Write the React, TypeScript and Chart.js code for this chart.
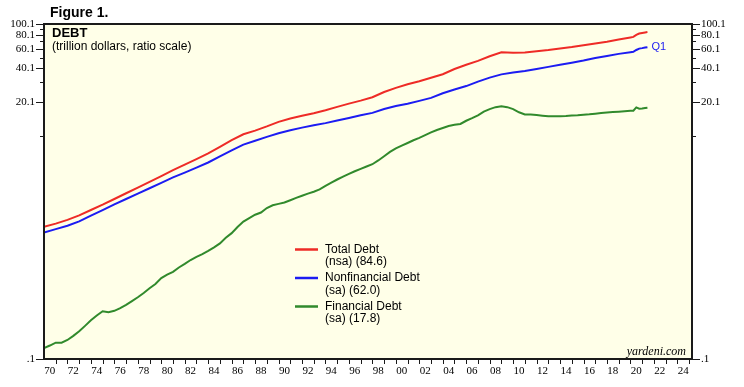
import React, { useEffect, useRef } from 'react';
import { Chart, registerables } from 'chart.js';

Chart.register(...registerables);

// ---------- data (trillion dollars) ----------
const annualYears = [
  1970, 1971, 1972, 1973, 1974, 1975, 1976, 1977, 1978, 1979,
  1980, 1981, 1982, 1983, 1984, 1985, 1986, 1987, 1988, 1989,
  1990, 1991, 1992, 1993, 1994, 1995, 1996, 1997, 1998, 1999,
  2000, 2001, 2002, 2003, 2004, 2005, 2006, 2007, 2008, 2009,
  2010, 2011, 2012, 2013, 2014, 2015, 2016, 2017, 2018, 2019,
  2020, 2020.25, 2020.5, 2020.75, 2021, 2021.25, 2021.45,
];

const totalDebt = [
  1.53, 1.63, 1.76, 1.93, 2.16, 2.41, 2.71, 3.05, 3.42, 3.85,
  4.35, 4.92, 5.51, 6.17, 6.93, 7.95, 9.13, 10.3, 11.1, 12.1,
  13.3, 14.25, 15.05, 15.9, 16.9, 18.1, 19.35, 20.6, 22.1, 24.6,
  26.8, 28.9, 30.7, 33.0, 35.5, 39.5, 43.1, 46.7, 51.4, 55.8,
  55.3, 55.5, 56.9, 58.4, 60.3, 62.2, 64.6, 67.0, 69.5, 72.5,
  75.7, 76.6, 80.0, 82.2, 83.2, 84.0, 84.6,
];

const nonfinancialDebt = [
  1.36, 1.455, 1.56, 1.71, 1.92, 2.15, 2.42, 2.71, 3.03, 3.38,
  3.78, 4.23, 4.67, 5.17, 5.75, 6.52, 7.4, 8.32, 9.0, 9.75,
  10.5, 11.2, 11.8, 12.4, 12.95, 13.65, 14.4, 15.25, 16.0, 17.3,
  18.4, 19.3, 20.5, 21.8, 24.0, 25.9, 27.8, 30.5, 33.1, 35.4,
  36.7, 37.9, 39.5, 41.3, 43.1, 45.0, 47.1, 49.6, 51.8, 54.0,
  55.8, 56.3, 58.5, 60.2, 60.8, 61.5, 62.0,
];

const halfYears = [
  1970, 1970.5, 1971, 1971.5, 1972, 1972.5, 1973, 1973.5, 1974, 1974.5,
  1975, 1975.5, 1976, 1976.5, 1977, 1977.5, 1978, 1978.5, 1979, 1979.5,
  1980, 1980.5, 1981, 1981.5, 1982, 1982.5, 1983, 1983.5, 1984, 1984.5,
  1985, 1985.5, 1986, 1986.5, 1987, 1987.5, 1988, 1988.5, 1989, 1989.5,
  1990, 1990.5, 1991, 1991.5, 1992, 1992.5, 1993, 1993.5, 1994, 1994.5,
  1995, 1995.5, 1996, 1996.5, 1997, 1997.5, 1998, 1998.5, 1999, 1999.5,
  2000, 2000.5, 2001, 2001.5, 2002, 2002.5, 2003, 2003.5, 2004, 2004.5,
  2005, 2005.5, 2006, 2006.5, 2007, 2007.5, 2008, 2008.5, 2009, 2009.5,
  2010, 2010.5, 2011, 2011.5, 2012, 2012.5, 2013, 2013.5, 2014, 2014.5,
  2015, 2015.5, 2016, 2016.5, 2017, 2017.5, 2018, 2018.5, 2019, 2019.5,
  2020, 2020.25, 2020.5, 2020.75, 2021, 2021.25, 2021.45,
];

const financialDebt = [
  0.125, 0.132, 0.14, 0.14, 0.148, 0.161, 0.177, 0.198, 0.222, 0.245,
  0.268, 0.262, 0.27, 0.285, 0.305, 0.33, 0.357, 0.39, 0.43, 0.47,
  0.53, 0.57, 0.603, 0.66, 0.71, 0.77, 0.822, 0.87, 0.93, 1.0,
  1.085, 1.22, 1.34, 1.52, 1.7, 1.83, 1.96, 2.05, 2.25, 2.38,
  2.45, 2.52, 2.64, 2.77, 2.9, 3.03, 3.15, 3.3, 3.55, 3.8,
  4.05, 4.3, 4.55, 4.8, 5.05, 5.3, 5.55, 6.0, 6.55, 7.15,
  7.7, 8.15, 8.6, 9.1, 9.55, 10.1, 10.7, 11.24, 11.7, 12.2,
  12.5, 12.72, 13.6, 14.35, 15.2, 16.4, 17.3, 18.0, 18.3, 18.0,
  17.3, 16.2, 15.5, 15.45, 15.3, 15.1, 14.9, 14.9, 14.9, 15.0,
  15.15, 15.25, 15.4, 15.55, 15.75, 15.95, 16.1, 16.25, 16.4, 16.55,
  16.7, 16.75, 17.9, 17.45, 17.5, 17.7, 17.8,
];

const xLabelYears = [
  1970, 1972, 1974, 1976, 1978, 1980, 1982, 1984, 1986, 1988,
  1990, 1992, 1994, 1996, 1998, 2000, 2002, 2004, 2006, 2008,
  2010, 2012, 2014, 2016, 2018, 2020, 2022, 2024,
];
const xTickLabels = [
  '70', '72', '74', '76', '78', '80', '82', '84', '86', '88',
  '90', '92', '94', '96', '98', '00', '02', '04', '06', '08',
  '10', '12', '14', '16', '18', '20', '22', '24',
];
const yTickValues = [0.1, 10, 20, 30, 40, 50, 60, 70, 80, 90, 100];
const yTickLabels = ['.1', '', '20.1', '', '40.1', '', '60.1', '', '80.1', '', '100.1'];

const seriesNames = ['Total Debt', 'Nonfinancial Debt', 'Financial Debt'];
const seriesNotes = ['(nsa) (84.6)', '(sa) (62.0)', '(sa) (17.8)'];
const seriesColors = ['#ee2b26', '#1c1cf2', '#318a2c'];

const X_MIN = 1970;
const X_MAX = 2025.25;
const BG = '#ffffe8';
const SANS = '"Liberation Sans", Arial, Helvetica, sans-serif';
const SERIF = '"Liberation Serif", "Times New Roman", serif';

const decorPlugin = {
  id: 'decor',
  beforeDraw(chart: any) {
    const { ctx, chartArea: a } = chart;
    ctx.save();
    ctx.fillStyle = '#ffffff';
    ctx.fillRect(0, 0, chart.width, chart.height);
    ctx.fillStyle = BG;
    ctx.fillRect(a.left, a.top, a.right - a.left, a.bottom - a.top);
    ctx.restore();
  },
  afterDatasetsDraw(chart: any) {
    const { ctx, chartArea: a, scales } = chart;
    const ys = scales.y;
    const xs = scales.x;
    ctx.save();
    // frame
    ctx.strokeStyle = '#1a1a1a';
    ctx.lineWidth = 2;
    ctx.strokeRect(a.left, a.top, a.right - a.left, a.bottom - a.top);

    // y tick marks on both sides
    ctx.lineWidth = 1;
    ctx.strokeStyle = '#1a1a1a';
    yTickValues.forEach((v, i) => {
      const py = Math.round(ys.getPixelForValue(v)) + 0.5;
      const len = yTickLabels[i] ? 8 : 4;
      ctx.beginPath();
      ctx.moveTo(a.left - len, py);
      ctx.lineTo(a.left, py);
      ctx.moveTo(a.right, py);
      ctx.lineTo(a.right + len, py);
      ctx.stroke();
    });
    // x tick marks (every year)
    for (let yr = Math.ceil(X_MIN) + 1; yr <= Math.floor(X_MAX); yr++) {
      const px = Math.round(xs.getPixelForValue(yr)) + 0.5;
      ctx.beginPath();
      ctx.moveTo(px, a.bottom);
      ctx.lineTo(px, a.bottom + 5);
      ctx.stroke();
    }

    // titles
    ctx.fillStyle = '#000';
    ctx.textBaseline = 'middle';
    ctx.textAlign = 'left';
    ctx.font = `bold 14px ${SANS}`;
    ctx.fillText('Figure 1.', 50, 13);
    ctx.font = `bold 13px ${SANS}`;
    ctx.fillText('DEBT', 52, 33.5);
    ctx.font = `12px ${SANS}`;
    ctx.fillText('(trillion dollars, ratio scale)', 52, 47);

    // legend
    const legendTop = [249.5, 278, 306.5];
    chart.data.datasets.forEach((ds: any, i: number) => {
      const y0 = legendTop[i];
      ctx.strokeStyle = ds.borderColor;
      ctx.lineWidth = 2.5;
      ctx.beginPath();
      ctx.moveTo(295, y0);
      ctx.lineTo(318, y0);
      ctx.stroke();
      ctx.fillStyle = '#000';
      ctx.font = `12px ${SANS}`;
      ctx.fillText(seriesNames[i], 325, y0);
      ctx.fillText(seriesNotes[i], 325, y0 + 12.5);
    });

    // Q1 marker next to end of blue line
    const last = annualYears.length - 1;
    ctx.fillStyle = seriesColors[1];
    ctx.font = `11px ${SANS}`;
    ctx.fillText('Q1', xs.getPixelForValue(annualYears[last]) + 4, ys.getPixelForValue(nonfinancialDebt[last]));

    // source
    ctx.fillStyle = '#000';
    ctx.textAlign = 'right';
    ctx.font = `italic 12px ${SERIF}`;
    ctx.fillText('yardeni.com', a.right - 6, a.bottom - 7.5);
    ctx.restore();
  },
};

const yAxis = (position: 'left' | 'right', width: number) => ({
  type: 'logarithmic' as const,
  position,
  min: 0.1,
  max: 100,
  grid: { display: false, drawTicks: false },
  border: { display: false },
  afterBuildTicks: (s: any) => {
    s.ticks = yTickValues.map((v) => ({ value: v }));
  },
  afterFit: (s: any) => {
    s.width = width;
  },
  ticks: {
    autoSkip: false,
    padding: 9,
    color: '#000',
    font: { family: SERIF, size: 11 },
    callback: (_v: any, i: number) => yTickLabels[i],
  },
});

export default function App() {
  const ref = useRef<HTMLCanvasElement | null>(null);

  useEffect(() => {
    document.body.style.margin = '0';
    if (!ref.current) return;
    const mk = (xs: number[], vs: number[]) => xs.map((x, i) => ({ x, y: vs[i] }));
    const chart = new Chart(ref.current, {
      type: 'line',
      data: {
        datasets: [
          { label: seriesNames[0], data: mk(annualYears, totalDebt), borderColor: seriesColors[0] },
          { label: seriesNames[1], data: mk(annualYears, nonfinancialDebt), borderColor: seriesColors[1] },
          { label: seriesNames[2], data: mk(halfYears, financialDebt), borderColor: seriesColors[2] },
        ].map((d) => ({ ...d, borderWidth: 2, pointRadius: 0, tension: 0, fill: false })),
      },
      options: {
        responsive: false,
        animation: false,
        devicePixelRatio: 1,
        layout: { padding: { top: 24, left: 0, right: 0, bottom: 0 } },
        plugins: { legend: { display: false }, tooltip: { enabled: false } },
        scales: {
          x: {
            type: 'linear',
            position: 'bottom',
            min: X_MIN,
            max: X_MAX,
            grid: { display: false, drawTicks: false },
            border: { display: false },
            afterBuildTicks: (s: any) => {
              s.ticks = xLabelYears.map((y) => ({ value: y + 0.5 }));
            },
            afterFit: (s: any) => {
              s.height = 28;
            },
            ticks: {
              autoSkip: false,
              maxRotation: 0,
              minRotation: 0,
              padding: 6,
              color: '#000',
              font: { family: SERIF, size: 11 },
              callback: (_v: any, i: number) => xTickLabels[i],
            },
          },
          y: yAxis('left', 44),
          y2: yAxis('right', 52),
        },
      },
      plugins: [decorPlugin],
    } as any);
    return () => chart.destroy();
  }, []);

  return <canvas ref={ref} width={744} height={387} style={{ display: 'block' }} />;
}
